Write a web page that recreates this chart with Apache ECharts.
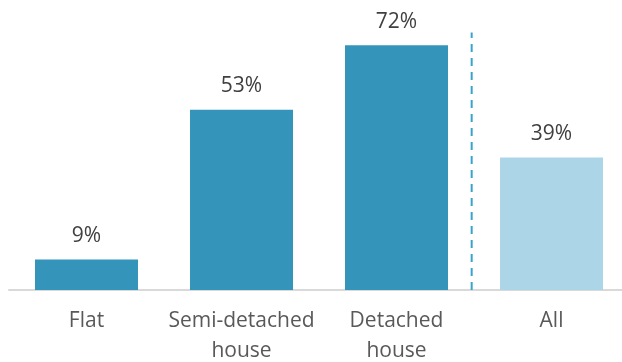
<!DOCTYPE html>
<html><head><meta charset="utf-8">
<script src="https://cdn.jsdelivr.net/npm/echarts@6/dist/echarts.min.js"></script>
<style>html,body{margin:0;padding:0;background:#fff}#c{width:622px;height:362px}</style>
</head><body><div id="c"></div>
<script>
const categories = ['Flat', 'Semi-detached\nhouse', 'Detached\nhouse', 'All'];
const values = [9, 53, 72, 39];
const barColors = ['#3494ba', '#3494ba', '#3494ba', '#acd5e7'];
const separatorX = 2.985;       // position between "Detached house" and "All" (in category units)
const separatorTop = 75.7;      // top of the dashed separator, in % units

const chart = echarts.init(document.getElementById('c'));
const font = '"Open Sans", sans-serif';
chart.setOption({
  animation: false,
  grid: { left: 9, width: 620, top: 18, height: 272, outerBoundsMode: 'none', containLabel: false },
  xAxis: [{
    type: 'category', data: categories,
    axisLine: { lineStyle: { color: '#d9d9d9', width: 2 } },
    axisTick: { show: false },
    axisLabel: { interval: 0, color: '#595959', fontSize: 21, fontFamily: font, margin: 16, lineHeight: 30 }
  }, {
    type: 'value', min: 0, max: 4, show: false
  }],
  yAxis: { type: 'value', min: 0, max: 80, show: false, splitLine: { show: false } },
  series: [{
    type: 'bar', barWidth: 103,
    data: values.map((v, i) => ({ value: v, itemStyle: { color: barColors[i] } })),
    label: { show: true, position: 'top', distance: 13, formatter: '{c}%', color: '#404040', fontSize: 21, fontFamily: font }
  }, {
    type: 'line', xAxisIndex: 1, symbol: 'none',
    data: [[separatorX, 0], [separatorX, separatorTop]],
    lineStyle: { color: '#3aa3cc', width: 2, type: [8, 6] }
  }]
});
</script></body></html>
